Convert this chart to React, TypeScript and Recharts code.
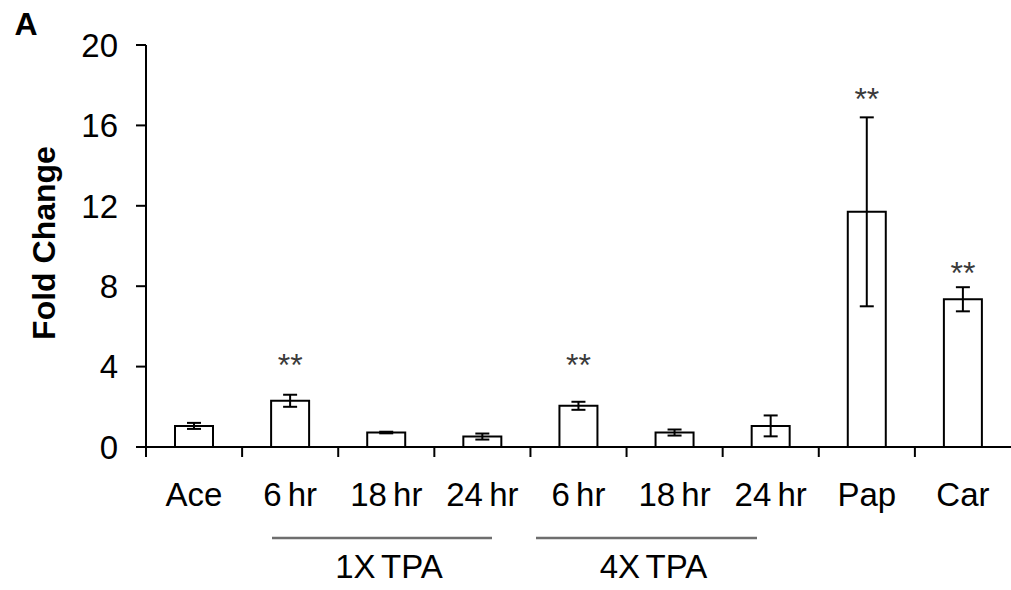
import React from 'react';
import { ComposedChart, Bar, ErrorBar, Scatter, XAxis, YAxis } from 'recharts';

const categories = ['Ace', '6 hr', '18 hr', '24 hr', '6 hr', '18 hr', '24 hr', 'Pap', 'Car'];
const foldChange = [1.05, 2.3, 0.72, 0.52, 2.05, 0.72, 1.05, 11.7, 7.35];
const errors = [0.15, 0.3, 0.04, 0.15, 0.2, 0.15, 0.52, 4.7, 0.6];
// height (in fold-change units) where the "**" marks sit; null = not significant
const sigMarks = [null, 4.43, null, null, 4.43, null, null, 17.68, 9.0];
const yTicks = [0, 4, 8, 12, 16, 20];
const groups = [
  { label: '1X TPA', from: 272, to: 492 },
  { label: '4X TPA', from: 536, to: 757 },
];

const W = 1011;
const H = 590;
const PLOT_LEFT = 146;
const PLOT_TOP = 45;
const PLOT_BOTTOM = 447;
const BAND = (W - PLOT_LEFT) / categories.length;
const FONT = '"Liberation Sans", Arial, sans-serif';

const data = categories.map((c, i) => ({
  id: String(i),
  value: foldChange[i],
  err: errors[i],
  sig: sigMarks[i],
}));

function CategoryTick({ x, payload }: any) {
  const i = Number(payload.value);
  const left = x - BAND / 2;
  return (
    <g>
      <line x1={left} x2={left} y1={PLOT_BOTTOM} y2={PLOT_BOTTOM + 10} stroke="#000" strokeWidth={2} />
      <text x={x} y={506} textAnchor="middle" fontSize={33} fontFamily={FONT} fill="#000" wordSpacing={-3}>
        {categories[i]}
      </text>
    </g>
  );
}

function Stars({ cx, cy, payload }: any) {
  if (payload == null || payload.sig == null || !Number.isFinite(cy)) return null;
  return (
    <text x={cx} y={cy + 18} textAnchor="middle" fontSize={32} fontFamily={FONT} fill="#3a3a3a">
      **
    </text>
  );
}

export default function App() {
  return (
    <div style={{ position: 'absolute', left: 0, top: 0, width: W, height: H, background: '#fff' }}>
      <ComposedChart
        width={W}
        height={H}
        data={data}
        margin={{ top: PLOT_TOP, right: 0, bottom: H - PLOT_BOTTOM - 60, left: 0 }}
      >
        <XAxis
          dataKey="id"
          height={60}
          interval={0}
          tickLine={false}
          axisLine={{ stroke: '#000', strokeWidth: 2 }}
          tick={<CategoryTick />}
        />
        <YAxis
          width={PLOT_LEFT}
          domain={[0, 20]}
          ticks={yTicks}
          allowDataOverflow
          tickSize={10}
          tickMargin={18}
          axisLine={{ stroke: '#000', strokeWidth: 2 }}
          tickLine={{ stroke: '#000', strokeWidth: 2 }}
          tick={{ fontSize: 33, fontFamily: FONT, fill: '#000' }}
        />
        <Bar dataKey="value" fill="#fff" stroke="#000" strokeWidth={2} barSize={38} isAnimationActive={false}>
          <ErrorBar dataKey="err" width={7} stroke="#000" strokeWidth={2} direction="y" />
        </Bar>
        <Scatter dataKey="sig" shape={<Stars />} isAnimationActive={false} />
      </ComposedChart>
      <svg
        width={W}
        height={H}
        style={{ position: 'absolute', left: 0, top: 0, pointerEvents: 'none' }}
      >
        <text x={26} y={35} textAnchor="middle" fontSize={32} fontWeight="bold" fontFamily={FONT} fill="#000">
          A
        </text>
        <text
          x={54.5}
          y={243}
          textAnchor="middle"
          fontSize={32}
          fontWeight="bold"
          fontFamily={FONT}
          fill="#000"
          transform="rotate(-90 54.5 243)"
        >
          Fold Change
        </text>
        {groups.map((g) => (
          <g key={g.label}>
            <line x1={g.from} x2={g.to} y1={538} y2={538} stroke="#6e6e6e" strokeWidth={2.5} />
            <text
              x={(g.from + g.to) / 2 + 7}
              y={578}
              textAnchor="middle"
              fontSize={33}
              fontFamily={FONT}
              fill="#000"
              wordSpacing={-3}
            >
              {g.label}
            </text>
          </g>
        ))}
      </svg>
    </div>
  );
}
